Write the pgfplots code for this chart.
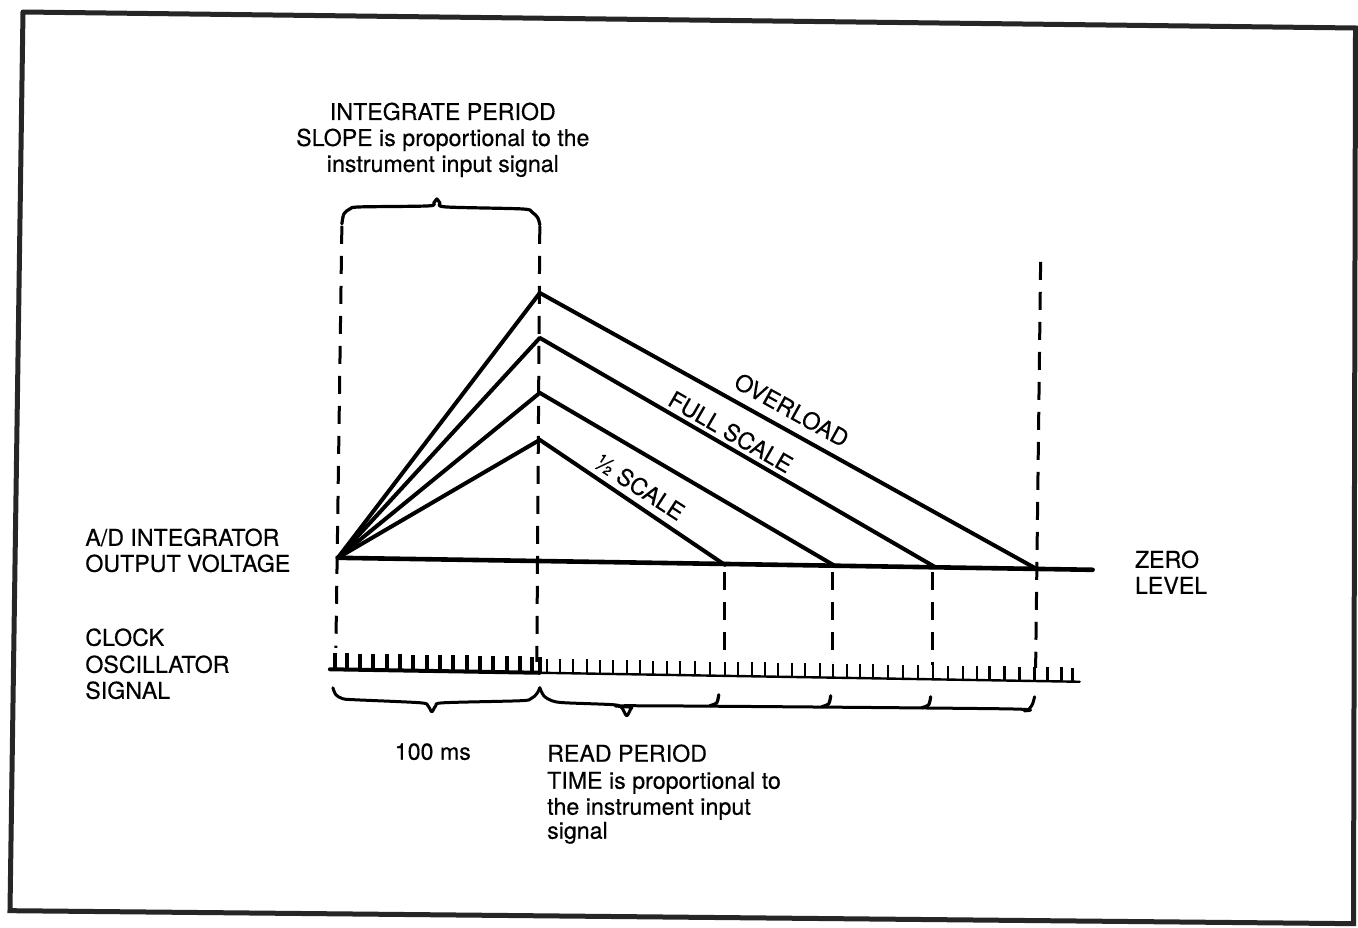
\documentclass[border=0pt]{standalone}
\usepackage{pgfplots}
\pgfplotsset{compat=1.18}
\usepackage{pgfplotstable}
\usepackage{fontspec}
\setmainfont{TeX Gyre Heros}[FakeBold=0.4]
\newcommand\lbl{\fontsize{11.6}{13}\selectfont}

% clock ticks: x, baseline y, tick height (pixel units, y downward)
\pgfplotstableread{
x y e
335 669.5 16
347 669.7 16
360 669.9 16
373 670.2 16
387 670.4 16
400 670.6 16
413 670.8 16
427 671.1 16
440 671.3 16
453 671.5 16
467 671.7 16
480 672.0 16
493 672.2 16
507 672.4 16
520 672.6 16
532 672.8 16
540 673.0 16
}\heavyticks
\pgfplotstableread{
x y e
547 673.1 14
560 673.3 14
573 673.5 14
587 673.7 14
600 674.0 14
613 674.2 14
627 674.4 14
640 674.6 14
653 674.8 14
667 675.1 14
680 675.3 14
695 675.5 14
710 675.8 14
725 676.0 14
738 676.3 14
752 676.5 14
765 676.7 14
778 676.9 14
792 677.2 14
805 677.4 14
820 677.6 14
833 677.9 14
847 678.1 14
860 678.3 14
873 678.5 14
888 678.8 14
903 679.0 14
918 679.3 14
933 679.5 14
948 679.8 14
963 680.0 14
977 680.3 14
990 680.5 14
1005 680.7 14
1020 681.0 14
1035 681.2 14
1048 681.4 14
1062 681.7 14
1073 681.9 14
}\lightticks

\begin{document}
\begin{tikzpicture}
\begin{axis}[
  scale only axis, width=679pt, height=464pt,
  xmin=0, xmax=1358, ymin=0, ymax=928, y dir=reverse,
  axis lines=none, clip=false,
  every axis plot/.append style={black, line join=round, line cap=round},
  dash/.style={line width=1.5pt, dash pattern=on 9pt off 6pt, line cap=butt},
]
% bounding box
\addplot[draw=none] coordinates {(0,0) (1358,928)};

% frame
\addplot[line width=2.5pt, color=black!85, line join=miter]
  coordinates {(23,12) (1356,28) (1354,924) (10,911) (23,12)};

% dashed guides
\addplot[dash] coordinates {(342,226) (336,648)};
\addplot[dash] coordinates {(540,226) (537,662)};
\addplot[dash] coordinates {(1041,262) (1036,668)};
\addplot[dash] coordinates {(725,572) (725,660)};
\addplot[dash] coordinates {(833,572) (833,662)};
\addplot[dash] coordinates {(933,572) (933,665)};

% zero level
\addplot[line width=2.3pt] coordinates {(338,558) (1093,570)};

% integrator ramps
\addplot[line width=2pt] coordinates {(338,558) (540,293) (1035,568)};
\addplot[line width=2pt] coordinates {(338,558) (540,338) (935,567)};
\addplot[line width=2pt] coordinates {(338,558) (540,393) (835,566)};
\addplot[line width=2pt] coordinates {(338,558) (540,440) (725,565)};

% top brace
\addplot[line width=1.6pt, smooth, tension=0.5] coordinates {
  (342,224) (344,214) (350,209) (360,207) (428,206) (434,203) (437,199)
  (440,203) (446,207) (522,209) (532,212) (538,218) (540,225)};

% clock baseline
\addplot[line width=2pt] coordinates {(330,669.5) (540,673)};
\addplot[line width=1.2pt] coordinates {(540,673) (1080,682)};
% clock ticks
\addplot[line width=1.6pt, quiver={u=0, v=-\thisrow{e},
    every arrow/.append style={line width=1.7pt, line cap=butt, black}}]
  table[x=x, y=y] {\heavyticks};
\addplot[line width=1.1pt, quiver={u=0, v=-\thisrow{e},
    every arrow/.append style={line width=1.15pt, line cap=butt, black}}]
  table[x=x, y=y] {\lightticks};

% bottom braces
\addplot[line width=1.5pt, smooth, tension=0.5] coordinates {
  (333,688) (336,695) (343,699) (355,700) (420,703) (428,706) (432,712)
  (436,706) (444,703) (520,701) (531,699) (537,694) (540,688)};
\addplot[line width=1.5pt, smooth, tension=0.5] coordinates {
  (540,688) (544,696) (552,701) (565,703) (614,705) (622,708) (627,716)
  (632,708) (640,706) (1000,709) (1025,711) (1032,706) (1035,697)};
\addplot[line width=1.6pt, smooth] coordinates {(710,706) (717,703) (719,695)};
\addplot[line width=1.6pt, smooth] coordinates {(822,707) (829,704) (831,696)};
\addplot[line width=1.6pt, smooth] coordinates {(922,708) (929,705) (931,697)};

% labels
\tikzset{every node/.style={font=\lbl, inner sep=0pt, text=black}}
\node[anchor=base] at (axis cs:443,120) {INTEGRATE PERIOD};
\node[anchor=base] at (axis cs:443,146) {SLOPE is proportional to the};
\node[anchor=base] at (axis cs:443,172) {instrument input signal};

\node[anchor=base west] at (axis cs:85,546) {A/D INTEGRATOR};
\node[anchor=base west] at (axis cs:85,572) {OUTPUT VOLTAGE};
\node[anchor=base west] at (axis cs:85,646) {CLOCK};
\node[anchor=base west] at (axis cs:85,673) {OSCILLATOR};
\node[anchor=base west] at (axis cs:85,699) {SIGNAL};

\node[anchor=base west] at (axis cs:1135,568) {ZERO};
\node[anchor=base west] at (axis cs:1135,594) {LEVEL};

\node[anchor=base] at (axis cs:433,760) {100 ms};
\node[anchor=base west] at (axis cs:547,762) {READ PERIOD};
\node[anchor=base west] at (axis cs:547,789) {TIME is proportional to};
\node[anchor=base west] at (axis cs:547,815) {the instrument input};
\node[anchor=base west] at (axis cs:547,839) {signal};

\node[rotate=-29] at (axis cs:792,410) {OVERLOAD};
\node[rotate=-30] at (axis cs:731,432) {FULL SCALE};
\node[rotate=-33] at (axis cs:640,487) {½ SCALE};
\end{axis}
\end{tikzpicture}
\end{document}
